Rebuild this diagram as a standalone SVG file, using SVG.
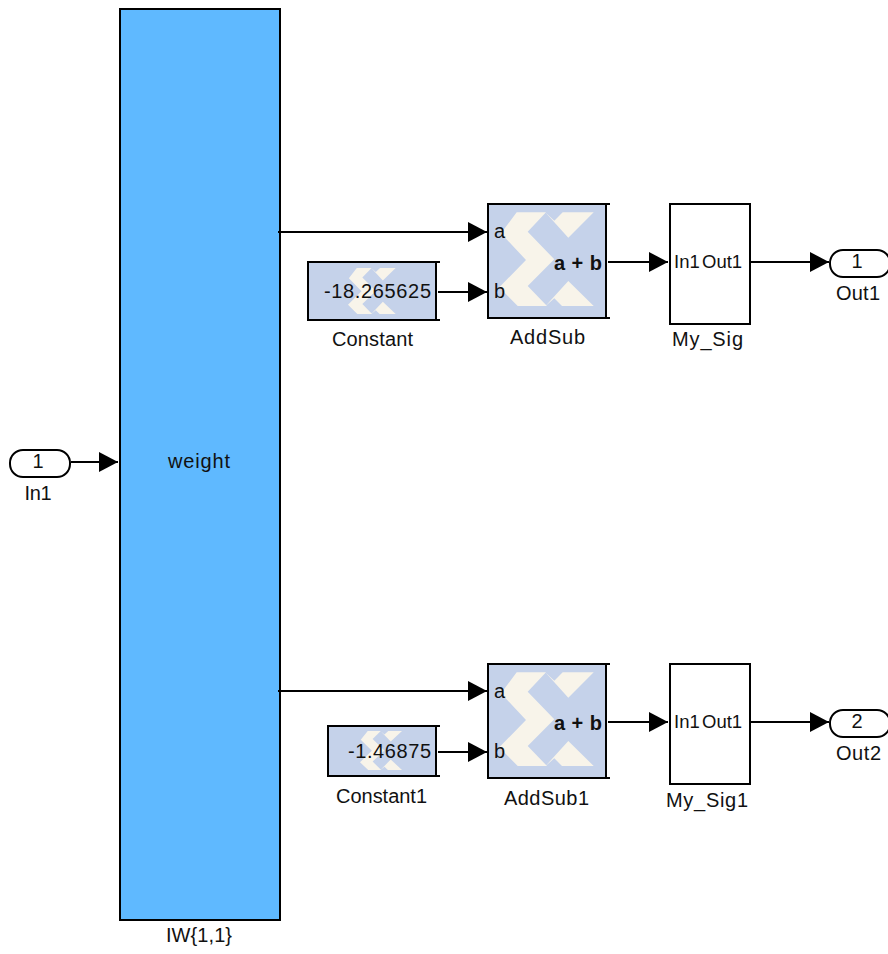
<svg xmlns="http://www.w3.org/2000/svg" width="888" height="954" viewBox="0 0 888 954">
<style>
text{font-family:"Liberation Sans",Arial,sans-serif;font-size:20px;fill:#111}
.m{text-anchor:middle}
.box{stroke:#000;stroke-width:2}
.x{fill:#c5d2ea}
.s{fill:#f8f4ea}
.t{stroke:#000;stroke-width:2;fill:none}
.b{font-weight:700}
.p{font-size:18.5px}
.c{stroke:#000;stroke-width:2;fill:none;marker-end:url(#a)}
</style>
<defs>
<marker id="a" markerUnits="userSpaceOnUse" markerWidth="20" markerHeight="20" refX="19" refY="10" orient="auto"><path d="M0 0L19 10L0 20Z" fill="#000"/></marker>
<path id="logo" class="s" d="M17.4 0H46.7L28.4 19.4L55 47L28.4 73.7L47.7 93.7H18.4L0 75L26.7 47.7L1.7 21ZM46 0L55 8.4L63.4 0H94.4L69 25.4ZM69 68.7L94.4 93.7H62.7L55 86L46 94Z"/>
</defs>
<g id="In1"><rect class="box" x="10" y="450" width="60" height="27" rx="13" fill="#fff"/><text class="m" x="38" y="468">1</text><text class="m" x="38" y="500" textLength="27">In1</text></g>
<g id="IW"><rect class="box" x="120" y="9" width="160" height="911" fill="#5fb9ff"/><text class="m" x="199" y="468" textLength="62">weight</text><text class="m" x="199" y="942" textLength="66">IW{1,1}</text></g>
<g id="Constant"><rect class="box x" x="308" y="262" width="128" height="58"/><path class="t" d="M436 262H440M436 320H440"/>
<use href="#logo" transform="translate(348,268) scale(.505,.49)"/>
<text x="324" y="298" textLength="107">-18.265625</text><text x="332" y="346" textLength="81">Constant</text></g>
<g id="Constant1"><rect class="box x" x="328" y="726" width="108" height="50"/><path class="t" d="M436 726H440M436 776H440"/>
<use href="#logo" transform="translate(360,731) scale(.445,.415)"/>
<text x="348" y="758" textLength="83">-1.46875</text><text x="336" y="803" textLength="91">Constant1</text></g>
<g id="AddSub"><rect class="box x" x="488" y="204" width="118" height="114"/><path class="t" d="M606 204H610M606 318H610"/>
<use href="#logo" transform="translate(499.3,212.3)"/>
<text x="494" y="238">a</text><text x="494" y="298">b</text><text class="b" x="554" y="270" textLength="48">a + b</text><text x="510" y="344" textLength="75">AddSub</text></g>
<g id="AddSub1"><rect class="box x" x="488" y="664" width="118" height="114"/><path class="t" d="M606 664H610M606 778H610"/>
<use href="#logo" transform="translate(499.3,672.3)"/>
<text x="494" y="698">a</text><text x="494" y="758">b</text><text class="b" x="554" y="730" textLength="48">a + b</text><text x="504" y="805" textLength="85">AddSub1</text></g>
<g id="My_Sig"><rect class="box" x="670" y="204" width="80" height="120" fill="#fff"/><text class="p" x="674" y="268">In1</text><text class="p" x="702" y="268">Out1</text><text x="672" y="346" textLength="71">My_Sig</text></g>
<g id="My_Sig1"><rect class="box" x="670" y="664" width="80" height="120" fill="#fff"/><text class="p" x="674" y="728">In1</text><text class="p" x="702" y="728">Out1</text><text x="666" y="807" textLength="82">My_Sig1</text></g>
<g id="Out1"><rect class="box" x="830" y="250" width="60" height="27" rx="13" fill="#fff"/><text class="m" x="857" y="268">1</text><text x="836" y="300" textLength="44">Out1</text></g>
<g id="Out2"><rect class="box" x="830" y="710" width="60" height="27" rx="13" fill="#fff"/><text class="m" x="857" y="728">2</text><text x="836" y="760" textLength="45">Out2</text></g>
<g id="connectors">
<path class="c" d="M71 462H118"/>
<path class="c" d="M278 232H487"/>
<path class="c" d="M278 691H487"/>
<path class="c" d="M438 292H487"/>
<path class="c" d="M438 752H487"/>
<path class="c" d="M608 262H668"/>
<path class="c" d="M608 722H668"/>
<path class="c" d="M749 262H829"/>
<path class="c" d="M749 722H829"/>
</g>
</svg>
